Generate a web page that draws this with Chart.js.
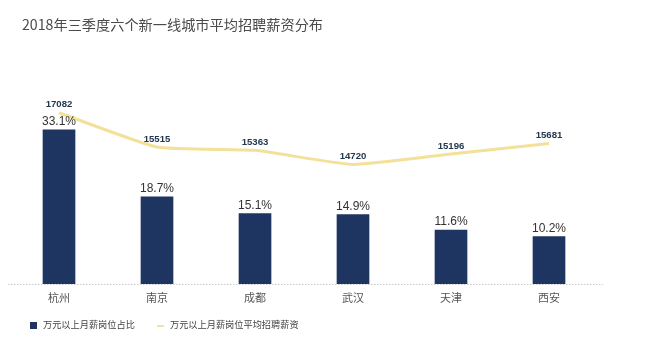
<!DOCTYPE html>
<html>
<head>
<meta charset="utf-8">
<script src="https://cdn.jsdelivr.net/npm/chart.js@4.4.1/dist/chart.umd.min.js"></script>
<style>
  html, body { margin: 0; padding: 0; background: #fff; }
  #wrap { position: relative; width: 645px; height: 344px; overflow: hidden;
          font-family: "Noto Sans CJK SC", "Noto Sans", sans-serif; }
  #title { position: absolute; left: 22px; top: 14px; font-size: 14.2px; color: #4a4a4a; white-space: nowrap; }
  #chart { position: absolute; left: 0; top: 0; }
  .legend { position: absolute; top: 318px; font-size: 9.2px; color: #444; white-space: nowrap; line-height: 12px; }
  .legend i { display: inline-block; vertical-align: middle; margin-right: 6px; }
</style>
</head>
<body>
<div id="wrap">
  <canvas id="chart" width="645" height="344"></canvas>
  <div id="title">2018年三季度六个新一线城市平均招聘薪资分布</div>
  <div class="legend" style="left:30px"><i style="width:7px;height:7px;background:#1e3461"></i>万元以上月薪岗位占比</div>
  <div class="legend" style="left:157px"><i style="width:7px;height:2px;background:#f2e2a2"></i>万元以上月薪岗位平均招聘薪资</div>
</div>
<script>
// City categories and the two series
const cities = ['杭州', '南京', '成都', '武汉', '天津', '西安'];
const shareOver10k = [33.1, 18.7, 15.1, 14.9, 11.6, 10.2];      // % of postings above 10k / month
const avgSalary = [17082, 15515, 15363, 14720, 15196, 15681];   // average advertised salary (元)

const BAR_COLOR = '#1e3461';
const LINE_COLOR = '#f3e19a';

// Draws the dotted baseline, category names and the value labels
const labelsPlugin = {
  id: 'labels',
  afterDatasetsDraw(chart) {
    const ctx = chart.ctx;
    const x = chart.scales.x, y = chart.scales.y;
    const base = y.getPixelForValue(0);
    ctx.save();
    // dotted baseline
    ctx.strokeStyle = '#c8c8c8';
    ctx.lineWidth = 1;
    ctx.setLineDash([1.5, 1.5]);
    ctx.beginPath();
    ctx.moveTo(8, base + 0.5);
    ctx.lineTo(603, base + 0.5);
    ctx.stroke();
    ctx.setLineDash([]);

    ctx.textAlign = 'center';
    ctx.textBaseline = 'middle';
    // category names
    ctx.fillStyle = '#555';
    ctx.font = '11px "Noto Sans CJK SC", sans-serif';
    cities.forEach((c, i) => ctx.fillText(c, x.getPixelForValue(i), base + 14));

    // bar percentages
    ctx.fillStyle = '#333';
    ctx.font = '12px "Liberation Sans", Arial, sans-serif';
    chart.getDatasetMeta(0).data.forEach((el, i) => {
      ctx.fillText(shareOver10k[i].toFixed(1) + '%', el.x, el.y - 8);
    });

    // salary values
    ctx.fillStyle = '#24394c';
    ctx.font = 'bold 9.6px "Liberation Sans", Arial, sans-serif';
    chart.getDatasetMeta(1).data.forEach((el, i) => {
      ctx.fillText(String(avgSalary[i]), el.x, el.y - 8);
    });
    ctx.restore();
  }
};

new Chart(document.getElementById('chart'), {
  data: {
    labels: cities,
    datasets: [
      {
        type: 'bar',
        label: '万元以上月薪岗位占比',
        data: shareOver10k,
        backgroundColor: BAR_COLOR,
        barThickness: 32,
        yAxisID: 'y',
        order: 2
      },
      {
        type: 'line',
        label: '万元以上月薪岗位平均招聘薪资',
        data: avgSalary,
        borderColor: LINE_COLOR,
        borderWidth: 3,
        pointRadius: 0,
        tension: 0.15,
        yAxisID: 'y1',
        order: 1
      }
    ]
  },
  options: {
    responsive: false,
    animation: false,
    layout: { padding: { left: 10, right: 47, top: 60, bottom: 60 } },
    plugins: { legend: { display: false }, title: { display: false }, tooltip: { enabled: false } },
    scales: {
      x: { display: false },
      y: { display: false, min: 0, max: 48.1 },
      y1: { display: false, min: 9260, max: 19490 }
    }
  },
  plugins: [labelsPlugin]
});
</script>
</body>
</html>
